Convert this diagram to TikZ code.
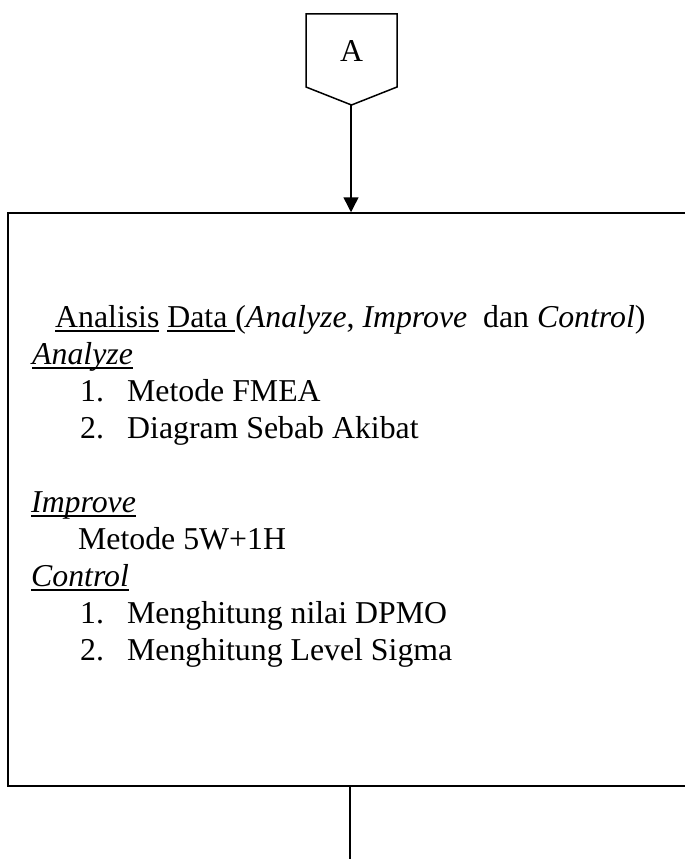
\documentclass[tikz,border=0pt]{standalone}
\usepackage{fontspec}
\setmainfont{Liberation Serif}
\usetikzlibrary{arrows.meta}

% underline drawn at a fixed depth below the baseline
\newcommand\ulx[1]{\setbox0\hbox{#1}\rlap{\rule[-4.8pt]{\wd0}{1.4pt}}\box0\relax}

\tikzset{
  line/.style={line width=1.5pt, draw=black},
  txt/.style={anchor=base west, inner sep=0pt, font=\fontsize{31.8}{37}\selectfont},
}

\begin{document}
\begin{tikzpicture}[x=1pt, y=-1pt]
  \useasboundingbox (0,0) rectangle (685,859);
  \clip (0,0) rectangle (685,859);

  % off-page connector
  \draw[line] (306,14) -- (397,14) -- (397,87) -- (351.5,105) -- (306,87) -- cycle;
  \node[txt, anchor=base] (conA) at (351.5,62) {A};
  \coordinate (apex) at (351,105);

  % process box (its right side runs past the page)
  \node[line, rectangle, minimum width=712pt, minimum height=573pt, inner sep=0pt]
       (proc) at (364,499.5) {};

  \draw[line, -{Triangle[length=15pt, width=15pt]}] (apex) -- (apex |- proc.north);

  % outgoing connector
  \coordinate (stemEnd) at (350,870);
  \draw[line] (stemEnd |- proc.south) -- (stemEnd);

  % box text
  \node[txt] (t1) at (55,327) {\ulx{Analisis} \ulx{Data\ }(\textit{Analyze}, \textit{Improve}\ \ dan \textit{Control})};
  \node[txt] (t2) at (32,364) {\ulx{\textit{Analyze}}};
  \node[txt] (t3) at (80,401) {1.};
  \node[txt] (t3b) at (127,401) {Metode FMEA};
  \node[txt] (t4) at (80,438) {2.};
  \node[txt] (t4b) at (127,438) {Diagram Sebab Akibat};
  \node[txt] (t5) at (31,512) {\ulx{\textit{Improve}}};
  \node[txt] (t6) at (78,549) {Metode 5W+1H};
  \node[txt] (t7) at (31,586) {\ulx{\textit{Control}}};
  \node[txt] (t8) at (80,623) {1.};
  \node[txt] (t8b) at (127,623) {Menghitung nilai DPMO};
  \node[txt] (t9) at (80,660) {2.};
  \node[txt] (t9b) at (127,660) {Menghitung Level Sigma};
\end{tikzpicture}
\end{document}
